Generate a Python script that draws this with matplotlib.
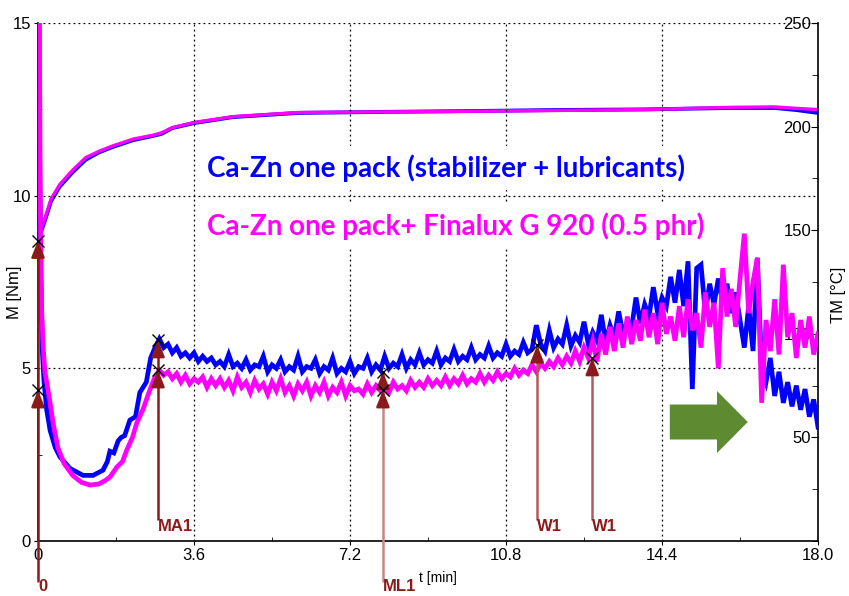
import numpy as np
import matplotlib
matplotlib.use('Agg')
import matplotlib.pyplot as plt
from matplotlib.patches import FancyArrow
from matplotlib.ticker import MultipleLocator

# ---------------- data ----------------
# start-up part of the torque curves (t in min, M in Nm)
t_blue_start = [0.02, 0.04, 0.07, 0.1, 0.14, 0.2, 0.28, 0.4, 0.51, 0.74, 1.04, 1.27, 1.5,
                1.6, 1.66, 1.75, 1.85, 1.92, 2.0, 2.12, 2.25, 2.35, 2.5, 2.6, 2.7]
m_blue_start = [16, 11, 7.5, 5.5, 4.6, 3.8, 3.2, 2.7, 2.43, 2.1, 1.9, 1.9, 2.05,
                2.3, 2.6, 2.55, 2.9, 3.0, 3.05, 3.5, 3.6, 4.3, 4.6, 5.3, 5.6]
t_pink_start = [0.03, 0.05, 0.08, 0.12, 0.16, 0.28, 0.35, 0.46, 0.6, 0.8, 1.0, 1.2, 1.4,
                1.55, 1.66, 1.82, 1.95, 2.05, 2.18, 2.28, 2.42, 2.58, 2.7]
m_pink_start = [16, 10, 6.8, 5.6, 4.9, 4.0, 3.4, 2.7, 2.25, 1.9, 1.7, 1.62, 1.65,
                1.75, 1.85, 2.14, 2.3, 2.64, 3.0, 3.42, 3.8, 4.37, 4.75]

# torque sampled every 0.1 min from 2.8 to 18.0 min
dense_t0 = 2.8
dense_dt = 0.1
m_blue_dense = [
    5.85, 5.6, 5.7, 5.45, 5.6, 5.35, 5.45, 5.3, 5.45, 5.2,
    5.35, 5.2, 5.3, 5.1, 5.2, 5.05, 5.4, 5.05, 5.15, 5.0,
    5.25, 4.95, 5.1, 5.05, 5.35, 4.9, 5.1, 5.0, 5.25, 4.9,
    5.05, 4.95, 5.35, 4.9, 5.05, 5.0, 5.25, 4.85, 5.05, 4.95,
    5.3, 4.85, 5.0, 4.9, 5.2, 4.85, 5.05, 5.0, 5.3, 4.9,
    5.1, 4.95, 5.35, 5.0, 5.15, 5.05, 5.4, 5.0, 5.25, 5.1,
    5.45, 5.1, 5.25, 5.15, 5.5, 5.1, 5.3, 5.2, 5.55, 5.2,
    5.35, 5.25, 5.6, 5.25, 5.4, 5.3, 5.65, 5.3, 5.45, 5.35,
    5.7, 5.35, 5.5, 5.4, 5.75, 5.45, 5.55, 6.25, 5.7, 5.5,
    6.1, 5.6, 5.85, 5.7, 6.25, 5.65, 5.95, 5.75, 6.35, 5.7,
    6.05, 5.8, 6.55, 5.75, 6.25, 5.9, 6.65, 6.0, 6.35, 6.2,
    7.05, 6.3, 6.85, 6.5, 7.35, 6.6, 7.05, 6.8, 7.65, 6.9,
    7.85, 6.8, 8.1, 4.4, 7.9, 8.0, 6.6, 7.45, 6.85, 7.6,
    6.9, 7.45, 6.6, 7.2, 6.4, 5.6, 6.8, 5.5, 8.2, 5.0,
    4.6, 5.3, 4.2, 4.9, 4.0, 4.6, 3.9, 4.5, 3.8, 4.4,
    3.6, 4.1, 3.3]
m_pink_dense = [
    4.95, 4.8, 4.9, 4.7, 4.85, 4.6, 4.8, 4.55, 4.7, 4.6,
    4.75, 4.45, 4.7, 4.5, 4.7, 4.45, 4.65, 4.35, 4.75, 4.45,
    4.6, 4.3, 4.65, 4.4, 4.55, 4.25, 4.6, 4.35, 4.7, 4.3,
    4.5, 4.2, 4.55, 4.35, 4.6, 4.2, 4.5, 4.3, 4.6, 4.2,
    4.45, 4.3, 4.6, 4.2, 4.5, 4.35, 4.4, 4.25, 4.55, 4.3,
    4.5, 4.35, 4.45, 4.3, 4.6, 4.4, 4.5, 4.35, 4.65, 4.45,
    4.6, 4.45, 4.7, 4.5, 4.65, 4.5, 4.75, 4.5, 4.7, 4.55,
    4.8, 4.55, 4.7, 4.6, 4.85, 4.6, 4.8, 4.65, 4.9, 4.7,
    4.85, 4.75, 5.0, 4.8, 4.95, 4.85, 5.1, 4.9, 5.15, 5.0,
    5.2, 5.05, 5.3, 5.1, 5.35, 5.15, 5.5, 5.2, 5.6, 5.3,
    5.8, 5.2, 6.0, 5.4, 6.2, 5.5, 6.3, 5.6, 6.5, 5.7,
    6.4, 5.8, 6.7, 5.9, 6.6, 5.7, 6.9, 6.0, 6.5, 5.8,
    6.8, 5.9, 7.0, 6.1, 6.6, 5.6, 7.2, 6.2, 6.9, 5.0,
    7.9, 6.5, 7.3, 6.2, 7.6, 8.9, 6.6, 7.5, 8.2, 4.0,
    6.4, 5.5, 7.0, 5.4, 8.0, 5.9, 6.6, 5.3, 6.4, 5.6,
    6.5, 5.4, 6.0]

# stock temperature TM (deg C)
t_temp = [0.05, 0.15, 0.3, 0.5, 0.8, 1.1, 1.4, 1.7, 2.2, 2.65, 2.85, 3.1, 3.6,
          4.5, 6.0, 8.0, 10.0, 12.0, 14.0, 16.0, 17.0, 17.5, 18.0]
tm_blue = [148, 154, 164, 171, 178, 184, 187.5, 190, 193.5, 195.5, 196.5, 199.3, 201.7,
           204.6, 206.6, 207.1, 207.5, 208, 208.3, 209, 209, 208, 206.6]
tm_pink = [149, 155, 165, 172, 179, 185, 188, 190.5, 194, 195.8, 197, 199.5, 202,
           204.8, 206.8, 207.1, 207.4, 207.8, 208.2, 209.3, 209.5, 208.8, 208.2]

# evaluation markers
marker_labels = ["0", "MA1", "ML1", "W1", "W1"]
marker_times = [0.0, 2.77, 7.96, 11.52, 12.79]
marker_tips = [[8.7, 4.37], [5.82, 4.95], [4.9, 4.37], [5.67], [5.3]]
marker_bases = [-1.2, 0.6, -1.2, 0.6, 0.6]
marker_label_y = [-1.32, 0.42, -1.32, 0.42, 0.42]
marker_line_colors = ["#8B1A1A", "#8B1A1A", "#C98585", "#B45A5A", "#B45A5A"]

x_ticks = [0, 3.6, 7.2, 10.8, 14.4, 18.0]
x_tick_labels = ["0", "3.6", "7.2", "10.8", "14.4", "18.0"]
m_ticks = [0, 5, 10, 15]
tm_ticks = [50, 100, 150, 200, 250]

label_blue = "Ca-Zn one pack (stabilizer + lubricants)"
label_pink = "Ca-Zn one pack+ Finalux G 920 (0.5 phr)"

BLUE = "#0000FF"
PINK = "#FF00FF"
DARKRED = "#8B1A1A"

# ---------------- figure ----------------
plt.rcParams['font.family'] = ['Liberation Sans', 'DejaVu Sans']
fig = plt.figure(figsize=(8.49, 5.96), dpi=100)
ax = fig.add_axes([38 / 849, 55 / 596, 780 / 849, 518 / 596])
ax2 = ax.twinx()
ax.set_zorder(ax2.get_zorder() + 1)
ax.patch.set_visible(False)

t_dense = np.round(dense_t0 + dense_dt * np.arange(len(m_blue_dense)), 2)
t_blue = np.concatenate([t_blue_start, t_dense])
m_blue = np.concatenate([m_blue_start, m_blue_dense])
t_pink = np.concatenate([t_pink_start, t_dense])
m_pink = np.concatenate([m_pink_start, m_pink_dense])

# temperature on right axis
ax2.plot(t_temp, tm_blue, color=BLUE, lw=2.8, solid_capstyle='butt')
ax2.plot(t_temp, tm_pink, color=PINK, lw=2.4, solid_capstyle='butt')
ax2.set_ylim(0, 250)
ax2.set_yticks(tm_ticks)
ax2.yaxis.set_minor_locator(MultipleLocator(25))
ax2.tick_params(axis='y', which='major', direction='in', length=5, pad=-5, labelsize=12)
ax2.tick_params(axis='y', which='minor', direction='in', length=4)
for lab in ax2.get_yticklabels():
    lab.set_horizontalalignment('right')
for s in ['top', 'left', 'bottom']:
    ax2.spines[s].set_visible(False)
ax2.spines['right'].set_linewidth(1.2)

# torque on left axis
ax.plot(t_blue, m_blue, color=BLUE, lw=3.4, zorder=3, solid_joinstyle='miter')
ax.plot(t_pink, m_pink, color=PINK, lw=3.4, zorder=4, solid_joinstyle='miter')
ax.set_xlim(0, 18.0)
ax.set_ylim(0, 15)
ax.set_xticks(x_ticks)
ax.set_xticklabels(x_tick_labels)
ax.set_yticks(m_ticks)
ax.xaxis.set_minor_locator(MultipleLocator(1.8))
ax.yaxis.set_minor_locator(MultipleLocator(2.5))
ax.tick_params(axis='both', which='major', direction='out', length=3, labelsize=12, pad=2)
ax.tick_params(axis='both', which='minor', direction='in', length=3)
for s in ['top', 'right']:
    ax.spines[s].set_visible(False)
ax.spines['bottom'].set_linewidth(1.2)
ax.spines['left'].set_linewidth(1.2)

# axis titles
fig.text(14 / 849, 1 - 292 / 596, "M [Nm]", fontsize=12, rotation=90, ha='center', va='center')
fig.text(838 / 849, 1 - 295 / 596, "TM [°C]", fontsize=12, rotation=90, ha='center', va='center')
fig.text(419 / 849, 1 - 578 / 596, "t [min]", fontsize=10, ha='left', va='center')

# dotted grid
for xv in x_ticks[1:-1]:
    ax.axvline(xv, color='black', lw=0.9, ls=(0, (1.5, 2.5)), zorder=1)
for yv in m_ticks[1:]:
    ax.axhline(yv, color='black', lw=0.9, ls=(0, (1.5, 2.5)), zorder=2.5)

# legend-like texts with white boxes hiding the vertical grid
ax.text(0.2167, 0.72, label_blue, transform=ax.transAxes, color=BLUE,
        fontsize=20, fontweight='bold', family=['Lato', 'DejaVu Sans'], va='center', ha='left',
        zorder=2, bbox=dict(boxstyle='square,pad=0.3', fc='white', ec='none'))
ax.text(0.2167, 0.608, label_pink, transform=ax.transAxes, color=PINK,
        fontsize=20, fontweight='bold', family=['Lato', 'DejaVu Sans'], va='center', ha='left',
        zorder=2, bbox=dict(boxstyle='square,pad=0.3', fc='white', ec='none'))

# evaluation markers
for lab, tx, tips, base, ly, lc in zip(marker_labels, marker_times, marker_tips,
                                       marker_bases, marker_label_y, marker_line_colors):
    ax.plot([tx, tx], [base, max(tips)], color=lc, lw=1.8, zorder=6, clip_on=False,
            solid_capstyle='butt')
    for tip in tips:
        ax.annotate('', xy=(tx, tip), xytext=(tx, tip - 0.45), annotation_clip=False, zorder=6,
                    arrowprops=dict(arrowstyle='-|>,head_length=0.55,head_width=0.22',
                                    mutation_scale=18, color=DARKRED, lw=1.8,
                                    shrinkA=0, shrinkB=0))
        ax.plot([tx], [tip], marker='x', color='black', ms=8, mew=1.0, zorder=7, clip_on=False)
    ax.text(tx, ly, lab, color=DARKRED, fontsize=12, fontweight='bold', ha='left', va='center',
            zorder=7, clip_on=False)

# green block arrow
arr = FancyArrow(0.810, 0.2297, 0.100, 0.0, width=0.0675, head_width=0.1197,
                 head_length=0.0395, length_includes_head=True, transform=ax.transAxes,
                 color="#5E8B32", ec='none', zorder=8)
ax.add_patch(arr)

fig.savefig("out.png", dpi=100)
